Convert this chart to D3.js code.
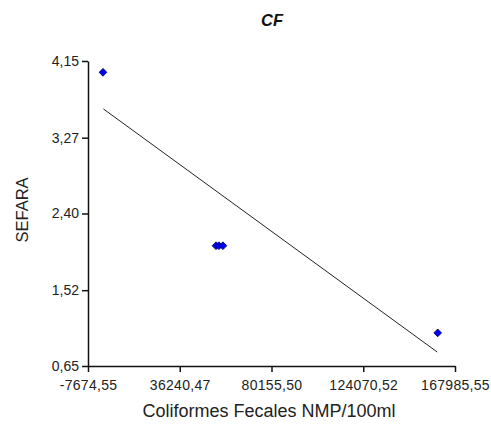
<!DOCTYPE html>
<html>
<head>
<meta charset="utf-8">
<script src="https://cdn.jsdelivr.net/npm/d3@7"></script>
<style>
  body { margin: 0; background: #fff; }
  text { font-family: "Liberation Sans", Arial, sans-serif; }
</style>
</head>
<body>
<div id="chart"></div>
<script>
// datos
const coliformes = [-500, 53600, 55000, 56900, 159700];
const sefara = [4.02, 2.03, 2.03, 2.03, 1.03];
const lineaX = [-300, 159500];
const lineaY = [3.60, 0.81];
const xTicks = [-7674.55, 36240.47, 80155.50, 124070.52, 167985.55];
const yTicks = [0.65, 1.52, 2.40, 3.27, 4.15];

const width = 491, height = 426;
const margin = {top: 61, right: 36, bottom: 60, left: 88};

const svg = d3.select("#chart").append("svg")
    .attr("width", width)
    .attr("height", height);

const x = d3.scaleLinear()
    .domain([xTicks[0], xTicks[xTicks.length - 1]])
    .range([margin.left, width - margin.right]);

const y = d3.scaleLinear()
    .domain([yTicks[0], yTicks[yTicks.length - 1]])
    .range([height - margin.bottom, margin.top]);

const fmt = d => d.toFixed(2).replace(".", ",");

// eje x
const gx = svg.append("g")
    .attr("transform", "translate(0," + (height - margin.bottom) + ")")
    .call(d3.axisBottom(x).tickValues(xTicks).tickFormat(fmt).tickSize(6).tickSizeOuter(0));
gx.selectAll("text")
    .attr("font-size", 14).attr("fill", "#222")
    .attr("letter-spacing", "0.3px")
    .attr("y", 14);

// eje y
const gy = svg.append("g")
    .attr("transform", "translate(" + margin.left + ",0)")
    .call(d3.axisLeft(y).tickValues(yTicks).tickFormat(fmt).tickSize(6).tickSizeOuter(0));
gy.selectAll("text").attr("font-size", 14).attr("fill", "#222").attr("x", -9);

svg.selectAll(".domain, .tick line").attr("stroke", "#111").attr("stroke-width", 1.5);

// linea de tendencia
svg.append("line")
    .attr("x1", x(lineaX[0])).attr("y1", y(lineaY[0]))
    .attr("x2", x(lineaX[1])).attr("y2", y(lineaY[1]))
    .attr("stroke", "#222").attr("stroke-width", 1);

// puntos (rombos)
svg.selectAll("path.punto")
    .data(coliformes)
    .enter().append("path")
    .attr("class", "punto")
    .attr("d", d3.symbol().type(d3.symbolSquare).size(30))
    .attr("transform", (d, i) => "translate(" + x(d) + "," + y(sefara[i]) + ") rotate(45)")
    .attr("fill", "#0000ff")
    .attr("stroke", "#000050")
    .attr("stroke-width", 0.8);

// titulos
svg.append("text")
    .attr("x", 272).attr("y", 26)
    .attr("text-anchor", "middle")
    .attr("font-size", 16.5).attr("font-weight", "bold").attr("font-style", "italic")
    .attr("fill", "#111")
    .text("CF");

svg.append("text")
    .attr("x", 269).attr("y", 417)
    .attr("text-anchor", "middle")
    .attr("font-size", 18).attr("fill", "#222")
    .text("Coliformes Fecales NMP/100ml");

svg.append("text")
    .attr("transform", "translate(27.5,210) rotate(-90)")
    .attr("text-anchor", "middle")
    .attr("font-size", 16.5).attr("fill", "#222")
    .text("SEFARA");
</script>
</body>
</html>
